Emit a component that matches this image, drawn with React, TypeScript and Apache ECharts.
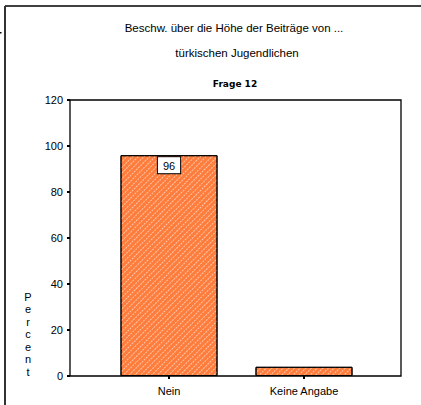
import React, { useEffect, useRef } from "react";
import * as echarts from "echarts";

const categories = ["Nein", "Keine Angabe"];
const percentValues = [96, 4];
const valueLabels = ["96", ""];
const yTicks = [0, 20, 40, 60, 80, 100, 120];
const titleLines = ["Beschw. über die Höhe der Beiträge von ...", "türkischen Jugendlichen"];
const subTitle = "Frage 12";
const yAxisName = "Percent";

export default function App() {
  const ref = useRef<HTMLDivElement>(null);
  useEffect(() => {
    if (!ref.current) return;
    const chart = echarts.init(ref.current, undefined, { renderer: "svg" });
    const yMin = yTicks[0];
    const yMax = yTicks[yTicks.length - 1];
    const yInterval = yTicks[1] - yTicks[0];
    const font = "Liberation Sans";
    chart.setOption({
      animation: false,
      aria: { enabled: true, decal: { show: true } },
      grid: [
        { left: 70, top: 100, width: 331, height: 276, show: true, borderColor: "#000", borderWidth: 1.3, backgroundColor: "transparent" },
        { left: 101.5, top: 100, width: 270, height: 276 },
      ],
      xAxis: [
        { gridIndex: 0, type: "value", min: 0, max: 1, show: false },
        {
          gridIndex: 1,
          type: "category",
          data: categories,
          axisLine: { show: false },
          axisTick: { show: true, alignWithLabel: true, length: 3, lineStyle: { color: "#000", width: 2 } },
          axisLabel: { color: "#000", fontSize: 11, fontFamily: font, margin: 9, interval: 0 },
        },
      ],
      yAxis: [
        {
          gridIndex: 0,
          type: "value",
          min: yMin,
          max: yMax,
          interval: yInterval,
          axisLine: { show: false },
          splitLine: { show: false },
          axisTick: { show: true, length: 3, lineStyle: { color: "#000", width: 2 } },
          axisLabel: { color: "#000", fontSize: 11, fontFamily: font, margin: 7 },
        },
        { gridIndex: 1, type: "value", min: yMin, max: yMax, interval: yInterval, show: false },
      ],
      series: [
        {
          type: "bar",
          xAxisIndex: 1,
          yAxisIndex: 1,
          barWidth: 97,
          data: percentValues.map((v, i) => ({
            value: v,
            label: {
              show: valueLabels[i] !== "",
              formatter: valueLabels[i],
            },
          })),
          itemStyle: {
            color: "#ff7d3c",
            borderColor: "#000",
            borderWidth: 1,
            decal: {
              symbol: "rect",
              symbolSize: 1,
              dashArrayX: [[2, 1]],
              dashArrayY: [1, 3],
              rotation: -Math.PI / 4,
              color: "rgba(255,255,255,0.55)",
            },
          },
          label: {
            position: "insideTop",
            distance: 2,
            color: "#000",
            fontSize: 11,
            fontFamily: font,
            backgroundColor: "#fff",
            borderColor: "#000",
            borderWidth: 1,
            padding: [3, 5, 2, 5],
          },
        },
      ],
      graphic: [
        { type: "line", shape: { x1: 5, y1: 6, x2: 421, y2: 6 }, style: { stroke: "#000", lineWidth: 1.5 } },
        { type: "line", shape: { x1: 5, y1: 6, x2: 5, y2: 405 }, style: { stroke: "#333", lineWidth: 2 } },
        { type: "rect", shape: { x: 0, y: 32, width: 1.5, height: 1.5 }, style: { fill: "#000" } },
        {
          type: "text",
          x: 234,
          y: 28,
          style: { text: titleLines[0], fill: "#000", font: `11.5px "${font}"`, align: "center", verticalAlign: "middle" },
        },
        {
          type: "text",
          x: 237,
          y: 53,
          style: { text: titleLines[1], fill: "#000", font: `11.5px "${font}"`, align: "center", verticalAlign: "middle" },
        },
        {
          type: "text",
          x: 235,
          y: 84,
          style: { text: subTitle, fill: "#000", font: `bold 9px "DejaVu Sans"`, align: "center", verticalAlign: "middle" },
        },
        {
          type: "text",
          x: 28,
          y: 334,
          style: {
            text: yAxisName.split("").join("\n"),
            fill: "#000",
            font: `11px "${font}"`,
            lineHeight: 12.5,
            align: "center",
            verticalAlign: "middle",
          },
        },
      ],
    });
    return () => chart.dispose();
  }, []);
  return <div ref={ref} style={{ position: "fixed", left: 0, top: 0, width: 421, height: 405, background: "#fff" }} />;
}
